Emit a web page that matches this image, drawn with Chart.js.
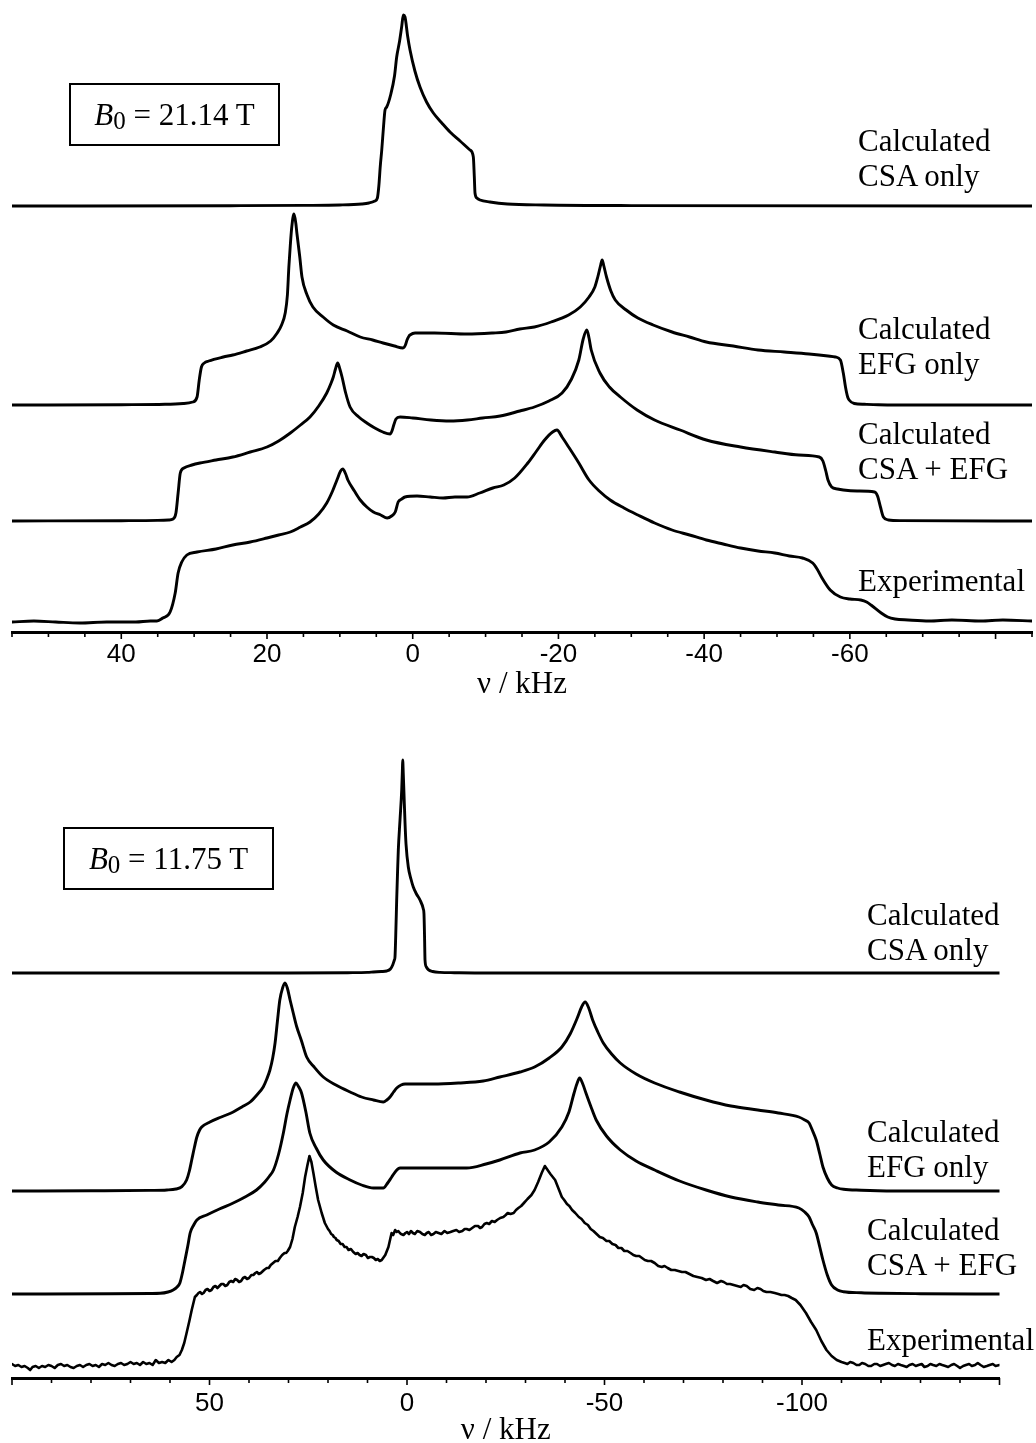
<!DOCTYPE html>
<html>
<head>
<meta charset="utf-8">
<script src="https://cdn.jsdelivr.net/npm/chart.js@4/dist/chart.umd.min.js"></script>
<style>
  html, body { margin: 0; padding: 0; background: #fff; }
  body { width: 1036px; height: 1443px; position: relative; overflow: hidden;
         font-family: "Liberation Serif", "Times New Roman", serif; color: #000; }
  .panel { position: absolute; left: 0; width: 1036px; }
  .panel canvas { position: absolute; left: 0; top: 0; }
  .trace-label { position: absolute; font-size: 31px; line-height: 35px; white-space: nowrap; }
  .field { position: absolute; box-sizing: border-box; border: 2px solid #000; width: 211px; height: 63px;
           font-size: 31px; line-height: 59px; text-align: center; white-space: nowrap; }
  .field i { font-style: italic; }
  .field sub { font-size: 25px; vertical-align: -4px; line-height: 0; }
</style>
</head>
<body>
<div class="panel" id="panel21" style="top:0;height:705px;">
  <canvas id="c21" width="1036" height="705"></canvas>
</div>
<div class="panel" id="panel11" style="top:705px;height:746px;">
  <canvas id="c11" width="1036" height="746"></canvas>
</div>

<script>
// Static spectra, stacked traces. Each point: [frequency / kHz, intensity / a.u.]

// ---------- B0 = 21.14 T ----------
const fieldLabel21 = '21.14';
const tickLabels21 = [40, 20, 0, -20, -40, -60];

const csaOnly21 = [
  [55,0],[25,0.3],[15,0.6],[10,1],[7,2],[6,3],[5.2,5],[4.85,8],[4.65,20],[4.45,40],[4.25,56],
  [4.0,80],[3.8,96],[3.57,99],[3.0,112],[2.5,130],[2.2,149],[1.8,165],[1.5,180],[1.29,191],
  [1.06,189],[0.7,170],[0.37,156],[-0.3,135],[-1.0,119],[-1.9,104],[-2.83,93],[-4,83],[-5.12,74],
  [-6.5,65],[-7.86,56],[-8.32,49],[-8.45,30],[-8.55,13],[-8.8,8],[-9.24,6],[-10.6,4],[-13,2],
  [-18,1],[-30,0.4],[-85,0]
];

const efgOnly21 = [
  [55,0],[40,0.3],[34,0.7],[31.5,1.5],[30.2,3],[29.6,8],[29.3,25],[29.0,38],[28.6,42],[28.0,44],
  [26,48],[24.7,50],[22.8,54],[21,58],[19.5,64],[18.6,72],[18,80],[17.5,92],[17.2,110],[17.0,138],
  [16.8,160],[16.6,178],[16.3,191],[16.05,182],[15.9,172],[15.5,148],[15.2,128],[14.5,110],[13.7,98],
  [12.3,88],[10.9,80],[9,74],[7.2,68],[5.5,65],[4.07,62],[2.5,59],[1.33,57],[1.0,60],[0.78,65],
  [0.5,69],[0.37,70],[-0.32,72],[-3,72],[-7.5,71],[-11,72],[-12.8,73],[-14.7,76],[-16.7,78],[-19,83],
  [-21.4,90],[-23,98],[-24.2,108],[-25,118],[-25.4,128],[-25.8,140],[-26.0,145],[-26.2,140],[-26.6,128],
  [-27.2,114],[-27.8,105],[-29.3,95],[-30.9,87],[-33,80],[-35.6,73],[-38,68],[-40.3,63],[-44,59],
  [-47.4,55],[-51,53],[-54.4,51],[-57,49],[-58,48],[-58.7,45],[-59.1,32],[-59.4,18],[-59.7,8],
  [-59.9,5],[-60.6,1.5],[-62,0.7],[-63.9,0.3],[-70,0],[-85,0]
];

const csaEfg21 = [
  [55,0],[40,0.3],[35,0.6],[33.5,1],[32.9,2],[32.5,8],[32.2,28],[31.9,48],[31.4,53],[30.3,56],
  [29.2,58],[27,61],[24.7,64],[22.3,69],[20,74],[18.4,80],[16.8,88],[15.4,96],[14.1,104],[12.9,115],
  [11.8,128],[11.2,138],[10.9,144],[10.6,152],[10.3,158],[10.0,152],[9.7,144],[9.2,128],[8.6,114],
  [7.4,104],[6.3,98],[5.2,93],[4.1,89],[3.1,87],[2.85,90],[2.6,96],[2.3,102],[1.74,104],[0,103],
  [-2.5,101],[-5.1,100],[-7.5,101],[-9.6,103],[-12,105],[-14.7,110],[-16.7,114],[-18.7,120],
  [-20.5,128],[-21.8,142],[-22.8,161],[-23.4,182],[-23.9,191],[-24.2,183],[-24.5,171],[-25.7,148],
  [-27,134],[-28.5,124],[-30.8,111],[-33.2,101],[-36.7,91],[-40.3,81],[-45,74],[-49.7,69],[-53,66],
  [-55.8,64],[-56.3,60],[-56.7,50],[-57.0,41],[-57.5,34],[-58.3,32],[-59.1,31],[-61,30],[-63.4,29],
  [-63.8,25],[-64.2,14],[-64.6,4],[-65.3,1],[-67,0.4],[-85,0]
];

const experimental21 = [
  [55,-1],[52,0],[49,-1],[45.7,-2],[42,-1],[38,-1],[36,0],[35.1,0],[34.3,3],[33.3,9],[32.6,28],
  [32.2,48],[31.7,59],[31.0,66],[29.6,69],[27,72],[24.7,76],[22.3,79],[20,83],[18.4,86],[16.8,89],
  [15.4,94],[14.1,99],[12.9,107],[11.8,118],[11,130],[10.4,141],[9.9,150],[9.6,152],[9.2,147],
  [8.9,141],[8,130],[7.2,121],[6.3,114],[5.4,109],[4.4,106],[3.5,103],[2.9,105],[2.4,109],[2.0,119],
  [1.5,122],[1.06,124],[-0.59,125],[-2.4,124],[-4.16,123],[-5.8,124],[-7.46,124],[-9.2,128],[-11,133],
  [-12.5,136],[-14,143],[-15.8,158],[-17,170],[-18.1,181],[-19.2,189],[-19.8,191],[-20.5,184],
  [-21.4,174],[-22.8,158],[-24.2,141],[-25.6,130],[-27.1,121],[-29,113],[-30.9,106],[-33.2,98],
  [-35.6,91],[-38,86],[-40.3,81],[-42.6,77],[-45,73],[-47.4,70],[-49.7,68],[-51.7,65],[-53.5,63],
  [-54.9,58],[-55.5,52],[-56.1,44],[-57.3,31],[-58.7,24],[-60,22],[-61.5,21],[-62.3,19],[-62.9,16],
  [-64.3,8],[-65.2,4],[-66.2,2],[-68,1],[-70.9,0],[-74,1],[-78,0],[-81,1],[-85,0]
];

// ---------- B0 = 11.75 T ----------
const fieldLabel11 = '11.75';
const tickLabels11 = [50, 0, -50, -100];

const csaOnly11 = [
  [100,0],[30,0],[15,0.3],[10,0.6],[8.5,1],[6.5,1.5],[5.14,2],[4.2,4],[3.62,8],[3.2,13],[3.04,16],
  [2.8,45],[2.61,73],[2.4,100],[2.2,123],[1.77,153],[1.34,183],[1.15,205],[1.09,213],[0.95,200],
  [0.76,179],[0.5,150],[0.25,129],[-0.33,106],[-1.0,94],[-1.59,86],[-2.4,79],[-3.29,73],[-4.13,64],
  [-4.3,59],[-4.45,35],[-4.56,13],[-4.9,6],[-5.39,3.4],[-6.5,1.5],[-8.35,0.6],[-12,0.3],[-20,0],[-150,0]
];

const efgOnly11 = [
  [100,0],[80,0.2],[65,0.6],[60.8,1],[58.5,2],[57,4.3],[55.8,11],[55.1,20],[54.5,31],[53.8,44],
  [53.2,54],[52.5,61],[51.97,64],[49.9,69],[47,74],[44,79],[41.8,84],[39.7,89],[38,96],[36.4,104],
  [35.5,112],[34.7,121],[34,133],[33.4,148],[32.8,170],[32.2,191],[31.5,203],[30.9,208],[30.3,203],
  [29.6,191],[28.8,178],[27.9,164],[26.7,150],[25.4,134],[23.5,124],[21.2,114],[18,106],[14.4,99],
  [11.5,94],[8.5,91],[6.0,89],[5.1,91],[4.3,94],[3.4,99],[2.6,103],[1.5,106],[0.5,107],[-3,107],
  [-6.7,107],[-13,108],[-19.3,110],[-23.5,114],[-28.6,119],[-32.3,124],[-36,133],[-39.2,144],
  [-41.3,157],[-43.1,173],[-44.2,184],[-45.1,189],[-46,183],[-47.0,171],[-48.3,159],[-49.7,148],
  [-51.8,137],[-54.0,128],[-58,117],[-62.7,108],[-69,99],[-75.7,91],[-82,85],[-88.8,81],[-94,78],
  [-99.2,74],[-100.7,71],[-101.8,68],[-102.7,60],[-103.6,51],[-104.5,37],[-105.3,24],[-106.4,13],
  [-107.5,6],[-109,3],[-110.5,1.7],[-115,0.8],[-119.2,0.3],[-130,0],[-150,0]
];

const csaEfg11 = [
  [100,0],[75,0.2],[65,0.5],[62.5,0.7],[60.5,2],[59.2,4],[58.2,7],[57.5,11],[56.8,22],[56.2,34],
  [55.5,48],[54.9,61],[54,69],[53.2,74],[50.7,79],[47.5,85],[44,91],[41,97],[38.1,104],[36,112],
  [34.8,118],[33.8,124],[32.5,140],[31.3,161],[30.4,180],[29.6,194],[28.8,206],[28.1,211],[27.4,207],
  [26.7,201],[25.6,182],[24.6,161],[23,146],[21.2,134],[18,122],[14.4,114],[11.5,109],[8.5,106],
  [6.0,106],[4.9,111],[3.87,117],[2.8,123],[1.77,126],[-2.46,126],[-8,126],[-15.1,126],[-20,130],
  [-23.5,134],[-28.6,141],[-32.3,144],[-36,152],[-39.2,167],[-41,182],[-42.3,201],[-43,210],
  [-43.7,216],[-44.5,210],[-45.3,201],[-46.5,188],[-47.9,174],[-50.5,158],[-54.0,144],[-58,133],
  [-62.7,124],[-69,113],[-75.7,104],[-82,97],[-88.8,92],[-94,89],[-99.2,86],[-100.7,82],[-101.8,77],
  [-102.7,69],[-103.6,61],[-104.5,47],[-105.3,34],[-106.4,19],[-107.5,9],[-109,4],[-110.5,2.3],
  [-115,1.2],[-120,0.7],[-130,0.3],[-150,0]
];

const experimental11 = [
  [100,1],[99.2,-1],[98.4,0],[97.6,-2],[96.8,-1],[96,-3],[95.4,-5],[94.8,-2],[94,-1],[93.2,-3],
  [92.4,-1],[91.6,-2],[90.8,0],[90,-1],[89.2,-3],[88.4,0],[87.6,1],[86.8,-1],[86,0],[85.2,-2],
  [84.4,-3],[83.6,-1],[82.8,0],[82,-2],[81.2,0],[80.4,1],[79.6,-1],[78.8,0],[78,-2],[77.2,1],
  [76.4,0],[75.6,2],[74.8,0],[74,-1],[73.2,1],[72.4,2],[71.6,0],[70.8,1],[70,3],[69.2,1],[68.4,2],
  [67.6,0],[66.8,3],[66,1],[65.2,2],[64.4,0],[63.6,5],[62.8,2],[62,3],[61.2,2],[60.4,5],[59.6,3],
  [58.9,5],[58.3,8],[57.6,10],[57.0,15],[56.4,22],[55.8,32],[55.1,44],[54.5,55],[53.7,68],[53.2,70],
  [52.8,72],[52.4,73],[51.9,71],[51.5,72],[51,75],[50.5,76],[50,74],[49.5,75],[49,78],[48.5,79],
  [48,77],[47.5,79],[47,81],[46.5,81],[46,79],[45.5,80],[45,83],[44.5,84],[44.0,83],[43.5,86],[43,85],
  [42.5,83],[42,84],[41.5,87],[41,88],[40.5,86],[40,87],[39.4,90],[38.9,90],[38.4,92],[38,93],[37.5,91],
  [37,92],[36.2,95],[35.5,97],[35,97],[34.5,100],[33.9,102],[33.3,104],[32.7,104],[32.2,107],[31.6,110],
  [31,112],[30.6,112],[30.2,114],[29.6,118],[29,126],[28.4,138],[27.7,148],[27.1,158],[26.4,172],
  [25.8,188],[25.2,200],[24.7,209],[24.2,203],[23.7,192],[23.1,178],[22.5,165],[21.6,152],[20.8,142],
  [20.4,139],[20,136],[19.6,134],[19.2,131],[18.8,130],[18.5,128],[18.1,127],[17.8,125],[17.3,124],
  [16.8,121],[16.3,121],[15.8,118],[15.3,118],[14.8,115],[14.2,116],[13.6,113],[13,111],[12.5,112],
  [12,110],[11.5,109],[11,111],[10.4,110],[9.9,107],[9.4,108],[8.9,108],[8.4,107],[7.9,105],[7.4,106],
  [6.9,104],[6.4,105],[5.5,110],[4.7,118],[3.9,132],[3.5,130],[3.0,135],[2.6,133],[2.2,134],[1.8,132],
  [1.5,131],[0.9,130],[0.4,132],[0,133],[-0.5,131],[-1,134],[-1.5,132],[-2,131],[-2.6,134],[-3.3,133],
  [-3.9,131],[-4.5,130],[-5,132],[-5.5,133],[-6.1,130],[-6.7,131],[-7.3,133],[-8,132],[-8.7,131],
  [-9.5,134],[-10.2,132],[-11,133],[-11.7,134],[-12.5,135],[-13.2,133],[-14,134],[-14.6,136],
  [-15.1,136],[-15.8,135],[-16.5,137],[-17.2,139],[-18,139],[-18.5,137],[-19,138],[-19.6,141],
  [-20.2,142],[-20.8,141],[-21.5,144],[-22.2,143],[-22.8,145],[-23.6,147],[-24.4,148],[-25,150],
  [-25.5,152],[-26.2,151],[-27.0,152],[-27.6,155],[-28.2,157],[-28.9,159],[-29.6,162],[-30.5,166],
  [-31.5,170],[-32.3,175],[-33.2,183],[-34.1,192],[-34.9,199],[-35.6,195],[-36.3,191],[-37.5,185],
  [-38.3,177],[-39.2,168],[-39.8,165],[-40.5,161],[-41.1,159],[-41.8,155],[-42.6,152],[-43.5,148],
  [-44.2,146],[-45,142],[-45.8,140],[-46.5,136],[-47.2,134],[-48,131],[-48.8,128],[-49.6,127],
  [-50.5,124],[-51.2,124],[-52,121],[-52.8,120],[-53.5,117],[-54.3,117],[-55,114],[-55.8,114],
  [-56.6,112],[-57.3,110],[-58,109],[-58.8,109],[-59.5,107],[-60.2,105],[-61,104],[-61.8,104],
  [-62.7,102],[-63.6,99],[-64.5,98],[-65.2,99],[-66,97],[-66.9,95],[-67.8,95],[-68.7,94],[-69.6,93],
  [-70.5,93],[-71.5,91],[-72.5,89],[-73.5,88],[-74.6,87],[-75.7,85],[-76.6,86],[-77.5,84],[-78.5,82],
  [-79.5,84],[-80.2,83],[-81,81],[-81.8,81],[-82.7,80],[-83.6,79],[-84.5,78],[-85.2,80],[-86,79],
  [-86.9,76],[-87.9,75],[-88.7,77],[-89.5,76],[-90.2,74],[-91,73],[-92,73],[-93.1,72],[-94,71],
  [-94.8,70],[-95.6,70],[-96.5,69],[-97.4,67],[-98.4,65],[-99.6,60],[-101.0,52],[-102.3,43],
  [-103.6,35],[-104.9,24],[-106.2,15],[-107.5,9],[-108.8,5],[-110,3],[-110.8,2],[-111.5,1],[-112.2,3],
  [-113,2],[-113.8,0],[-114.5,0],[-115.2,2],[-116,1],[-116.8,-1],[-117.5,-1],[-118.3,1],[-119,1],
  [-119.8,-1],[-120.5,0],[-121.2,1],[-122,2],[-122.8,0],[-123.5,-1],[-124.3,1],[-125,0],[-125.8,-1],
  [-126.5,-2],[-127.2,0],[-128,1],[-128.8,-1],[-129.5,0],[-130.3,1],[-131,-2],[-131.8,-1],[-132.5,1],
  [-133.2,0],[-134,-1],[-134.8,1],[-135.5,0],[-136.3,-1],[-137,-2],[-137.8,0],[-138.5,1],[-139.3,-1],
  [-140,-3],[-140.8,-1],[-141.5,0],[-142.3,1],[-143,-1],[-143.8,0],[-144.5,2],[-145.2,0],[-146,-2],
  [-146.8,-1],[-147.5,0],[-148.3,1],[-149,-1],[-150,0]
];

// Trace names, top to bottom, split over two lines where drawn
const traceNames = [
  ['Calculated', 'CSA only'],
  ['Calculated', 'EFG only'],
  ['Calculated', 'CSA + EFG'],
  ['Experimental']
];

// ---------- layout of the two panels ----------
const panels = [
  {
    canvasId: 'c21', panelId: 'panel21', field: fieldLabel21,
    traces: [csaOnly21, efgOnly21, csaEfg21, experimental21],
    smooth: [true, true, true, true],
    offsets: [426, 227, 111, 11],          // baseline of each stacked trace
    yMax: 632, xMin: -85, xMax: 55, padRight: 4,
    tickLabels: tickLabels21, majorStep: 20, minorStep: 5,
    tickPad: 7, titlePad: 2,
    labelLeft: 858, labelTops: [123, 311, 416, 563],
    box: { left: 69, top: 83 }
  },
  {
    canvasId: 'c11', panelId: 'panel11', field: fieldLabel11,
    traces: [csaOnly11, efgOnly11, csaEfg11, experimental11],
    smooth: [true, true, true, false],
    offsets: [405, 187, 84, 13],
    yMax: 673, xMin: -150, xMax: 100, padRight: 36.5,
    tickLabels: tickLabels11, majorStep: 50, minorStep: 10,
    tickPad: 10, titlePad: 2,
    labelLeft: 867, labelTops: [192, 409, 507, 617],
    box: { left: 63, top: 122 }
  }
];

// Major and minor tick marks under the frequency axis
const tickMarks = {
  id: 'tickMarks',
  afterDraw(chart, args, opts) {
    const xs = chart.scales.x;
    const ctx = chart.ctx;
    const y0 = chart.chartArea.bottom;
    ctx.save();
    ctx.strokeStyle = '#000';
    ctx.lineWidth = 1.6;
    const start = Math.ceil(xs.min / opts.minor) * opts.minor;
    for (let v = start; v <= xs.max + 1e-9; v += opts.minor) {
      const px = xs.getPixelForValue(v);
      const major = Math.abs(v % opts.major) < 1e-9;
      ctx.beginPath();
      ctx.moveTo(px, y0);
      ctx.lineTo(px, y0 + (major ? 7 : 5));
      ctx.stroke();
    }
    ctx.restore();
  }
};

function buildPanel(p) {
  new Chart(document.getElementById(p.canvasId), {
    type: 'line',
    data: {
      datasets: p.traces.map((trace, i) => ({
        label: traceNames[i].join(' '),
        data: trace.map(([f, a]) => ({ x: f, y: a + p.offsets[i] })),
        borderColor: '#000',
        borderWidth: p.smooth[i] ? 2.9 : 2.6,
        pointRadius: 0,
        fill: false,
        tension: 0,
        cubicInterpolationMode: p.smooth[i] ? 'monotone' : 'default',
        borderJoinStyle: 'round',
        borderCapStyle: 'round'
      }))
    },
    options: {
      responsive: false,
      animation: false,
      devicePixelRatio: 1,
      events: [],
      layout: { padding: { left: 12, right: p.padRight, top: 0, bottom: 0 } },
      plugins: {
        legend: { display: false },
        tooltip: { enabled: false },
        tickMarks: { major: p.majorStep, minor: p.minorStep }
      },
      scales: {
        x: {
          type: 'linear',
          reverse: true,
          min: p.xMin,
          max: p.xMax,
          afterBuildTicks: s => { s.ticks = p.tickLabels.map(v => ({ value: v })); },
          afterFit: s => { s.height = 73; },
          grid: { display: false, drawTicks: false },
          border: { display: true, color: '#000', width: 3 },
          ticks: {
            autoSkip: false, maxRotation: 0, padding: p.tickPad, color: '#000',
            font: { family: 'Liberation Sans', size: 26 },
            callback: v => String(v)
          },
          title: {
            display: true, text: 'ν / kHz', color: '#000',
            font: { family: 'Liberation Serif', size: 31 },
            padding: { top: 0, bottom: p.titlePad }
          }
        },
        y: { display: false, min: 0, max: p.yMax }
      }
    },
    plugins: [tickMarks]
  });

  const host = document.getElementById(p.panelId);
  traceNames.forEach((lines, i) => {
    const el = document.createElement('div');
    el.className = 'trace-label';
    el.style.left = p.labelLeft + 'px';
    el.style.top = p.labelTops[i] + 'px';
    el.innerHTML = lines.join('<br>');
    host.appendChild(el);
  });
  const box = document.createElement('div');
  box.className = 'field';
  box.style.left = p.box.left + 'px';
  box.style.top = p.box.top + 'px';
  box.innerHTML = '<i>B</i><sub>0</sub> = ' + p.field + ' T';
  host.appendChild(box);
}

panels.forEach(buildPanel);
</script>
</body>
</html>
